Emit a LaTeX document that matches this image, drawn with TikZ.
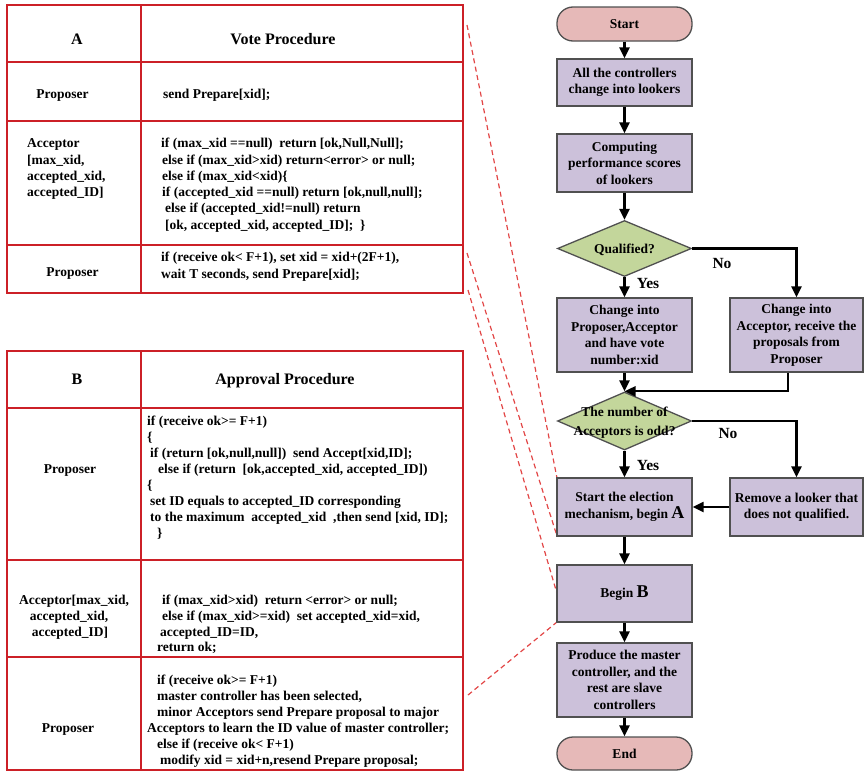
\documentclass[tikz,border=0pt]{standalone}
\usepackage{fontspec}
\setmainfont{Liberation Serif}
\usetikzlibrary{arrows.meta,shapes.geometric}
\definecolor{tred}{RGB}{204,32,39}
\definecolor{dred}{RGB}{226,70,70}
\definecolor{boxfill}{RGB}{204,193,218}
\definecolor{termfill}{RGB}{230,185,184}
\definecolor{diafill}{RGB}{195,214,155}
\definecolor{boxdraw}{RGB}{80,80,80}
\newcommand\codefnt{\fontsize{13.5}{16.3}\selectfont\bfseries}
\newcommand\flowfnt{\fontsize{13.5}{16.5}\selectfont\bfseries}
\newcommand\headfnt{\fontsize{16}{18}\selectfont\bfseries}
\newcommand\bigltr{\fontsize{18}{18}\selectfont}
\tikzset{
  tline/.style={draw=tred,line width=1.8pt},
  ctext/.style={font=\codefnt,inner sep=0pt,anchor=base west},
  ltext/.style={font=\codefnt,inner sep=0pt,anchor=base},
  htext/.style={font=\headfnt,inner sep=0pt,anchor=base},
  fbox/.style={draw=boxdraw,fill=boxfill,line width=1.3pt,minimum width=135pt,align=center,font=\flowfnt,inner sep=0pt},
  term/.style={fbox,fill=termfill,rounded corners=16pt},
  dia/.style={diamond,draw=boxdraw,fill=diafill,line width=1.3pt,minimum width=134pt,minimum height=56pt,inner sep=0pt},
  ftext/.style={font=\flowfnt,align=center,inner sep=0pt},
  yn/.style={font=\fontsize{15.5}{16}\selectfont\bfseries,inner sep=0pt},
  arr/.style={-{Triangle[length=11pt,width=10pt]},line width=2.2pt,draw=black},
  dline/.style={draw=dred,line width=1.2pt,dash pattern=on 5pt off 3.5pt}
}
\newcommand\codeln[4]{\node[ctext] (#1) at (#2,#3) {#4};}
\begin{document}
\begin{tikzpicture}[x=1pt,y=-1pt]
\useasboundingbox (0,0) rectangle (865,771);
% ---------- Table A ----------
\draw[tline] (7,5) rectangle (463,293);
\draw[tline] (141,5) -- (141,293);
\draw[tline] (7,62) -- (463,62);
\draw[tline] (7,121) -- (463,121);
\draw[tline] (7,245) -- (463,245);
\node[htext] (ha) at (77,44.5) {A};
\node[htext] (hva) at (283,44.5) {Vote Procedure};
\node[ltext] (pa1) at (62.5,98.5) {Proposer};
\codeln{a1}{163}{98.5}{send Prepare[xid];}
\codeln{acc1}{27}{147.5}{Acceptor}
\codeln{acc2}{27}{164}{[max\_xid,}
\codeln{acc3}{27}{180.3}{accepted\_xid,}
\codeln{acc4}{27}{196.5}{accepted\_ID]}
\codeln{a2}{161}{147.5}{if (max\_xid ==null)\ \ return [ok,Null,Null];}
\codeln{a3}{162}{164}{else if (max\_xid>xid) return<error> or null;}
\codeln{a4}{162}{180.3}{else if (max\_xid<xid)\{}
\codeln{a5}{162}{196.5}{if (accepted\_xid ==null) return [ok,null,null];}
\codeln{a6}{165}{212.9}{else if (accepted\_xid!=null) return}
\codeln{a7}{165}{229.2}{[ok, accepted\_xid, accepted\_ID];\ \ \}}
\node[ltext] (pa2) at (72.5,276) {Proposer};
\codeln{a8}{161}{261.5}{if (receive ok< F+1), set xid = xid+(2F+1),}
\codeln{a9}{161}{278}{wait T seconds, send Prepare[xid];}
% ---------- Table B ----------
\draw[tline] (7,351) rectangle (463,770);
\draw[tline] (141,351) -- (141,770);
\draw[tline] (7,408) -- (463,408);
\draw[tline] (7,560) -- (463,560);
\draw[tline] (7,657) -- (463,657);
\node[htext] (hb) at (77,384.5) {B};
\node[htext] (hvb) at (285,384.5) {Approval Procedure};
\node[ltext] (pb1) at (70,473.5) {Proposer};
\codeln{b1}{147}{425.5}{if (receive ok>= F+1)}
\codeln{b2}{147}{441.5}{\{}
\codeln{b3}{150}{457.5}{if (return [ok,null,null])\ \ send Accept[xid,ID];}
\codeln{b4}{158}{473.5}{else if (return\ \ [ok,accepted\_xid, accepted\_ID])}
\codeln{b5}{147}{489.5}{\{}
\codeln{b6}{150}{505.5}{set ID equals to accepted\_ID corresponding}
\codeln{b7}{150}{521.5}{to the maximum\ \ accepted\_xid\ \ ,then send [xid, ID];}
\codeln{b8}{157}{537.5}{\}}
\node[ltext] (accb1) at (74,604.5) {Acceptor[max\_xid,};
\node[ltext] (accb2) at (69,620.5) {accepted\_xid,};
\node[ltext] (accb3) at (70,636.5) {accepted\_ID]};
\codeln{c1}{162}{604.5}{if (max\_xid>xid)\ \ return <error> or null;}
\codeln{c2}{162}{620.5}{else if (max\_xid>=xid)\ \ set accepted\_xid=xid,}
\codeln{c3}{160}{636.5}{accepted\_ID=ID,}
\codeln{c4}{157}{651.5}{return ok;}
\node[ltext] (pb2) at (68,732.5) {Proposer};
\codeln{d1l}{157}{684.5}{if (receive ok>= F+1)}
\codeln{d2l}{157}{700.5}{master controller has been selected,}
\codeln{d3l}{157}{716.5}{minor Acceptors send Prepare proposal to major}
\codeln{d4l}{147}{732.5}{Acceptors to learn the ID value of master controller;}
\codeln{d5l}{157}{748.5}{else if (receive ok< F+1)}
\codeln{d6l}{160}{764.5}{modify xid = xid+n,resend Prepare proposal;}
% ---------- dashed connectors (behind boxes) ----------
\coordinate (da1) at (467,25);
\coordinate (da2) at (467,253);
\coordinate (db1) at (468,290);
\coordinate (db2) at (468,695);
\coordinate (elnw) at (557,478);
\coordinate (elsw) at (557,536);
\coordinate (bbw) at (557,593.5);
\coordinate (bbsw) at (557,622);
\draw[dline] (da1) -- (elnw);
\draw[dline] (da2) -- (elsw);
\draw[dline] (db1) -- (bbw);
\draw[dline] (db2) -- (bbsw);
% ---------- Flowchart ----------
\node[term,minimum height=34pt] (start) at (624.5,24) {Start};
\node[fbox,minimum height=47pt] (box1) at (624.5,82.5) {All the controllers\\change into lookers};
\node[fbox,minimum height=58pt] (box2) at (624.5,163) {Computing\\performance scores\\of lookers};
\node[dia] (q1) at (624.5,248.5) {};
\node[ftext] (q1t) at (624.5,249.5) {Qualified?};
\node[fbox,minimum height=74pt] (lbox) at (624.5,335) {Change into\\Proposer,Acceptor\\and have vote\\number:xid};
\node[fbox,minimum width=133pt,minimum height=74pt] (rbox) at (796.5,335) {Change into\\Acceptor, receive the\\proposals from\\Proposer};
\node[dia,minimum height=58pt] (q2) at (624.5,421) {};
\node[ftext,font=\fontsize{13.5}{18.5}\selectfont\bfseries] (q2t) at (624.5,422.5) {The number of\\Acceptors is odd?};
\node[fbox,minimum height=58pt] (elect) at (624.5,507) {Start the election\\mechanism, begin {\bigltr A}};
\node[fbox,minimum width=133pt,minimum height=58pt] (remove) at (796.5,507) {Remove a looker that\\does not qualified.};
\node[fbox,minimum height=57pt] (beginb) at (624.5,593.5) {Begin {\bigltr B}};
\node[fbox,minimum height=74pt] (produce) at (624.5,680) {Produce the master\\controller, and the\\rest are slave\\controllers};
\node[term,minimum height=33pt] (end) at (624.5,753.5) {End};
% arrows
\draw[arr] (start) -- (box1);
\draw[arr] (box1) -- (box2);
\draw[arr] (box2) -- (q1);
\draw[arr] (q1) -- (lbox);
\draw[arr] (q1.east) -| (rbox.north);
\draw[arr] (lbox) -- (q2);
\draw[arr] ([xshift=-8.5pt]rbox.south) |- (q2.north);
\draw[arr] (q2) -- (elect);
\draw[arr] (q2.east) -| (remove.north);
\draw[arr] (remove.west) -- (elect.east);
\draw[arr] (elect) -- (beginb);
\draw[arr] (beginb) -- (produce);
\draw[arr] (produce) -- (end);
\node[yn] (yes1) at (648,283) {Yes};
\node[yn] (no1) at (722,263) {No};
\node[yn] (yes2) at (648,465) {Yes};
\node[yn] (no2) at (728,433) {No};
\end{tikzpicture}
\end{document}
